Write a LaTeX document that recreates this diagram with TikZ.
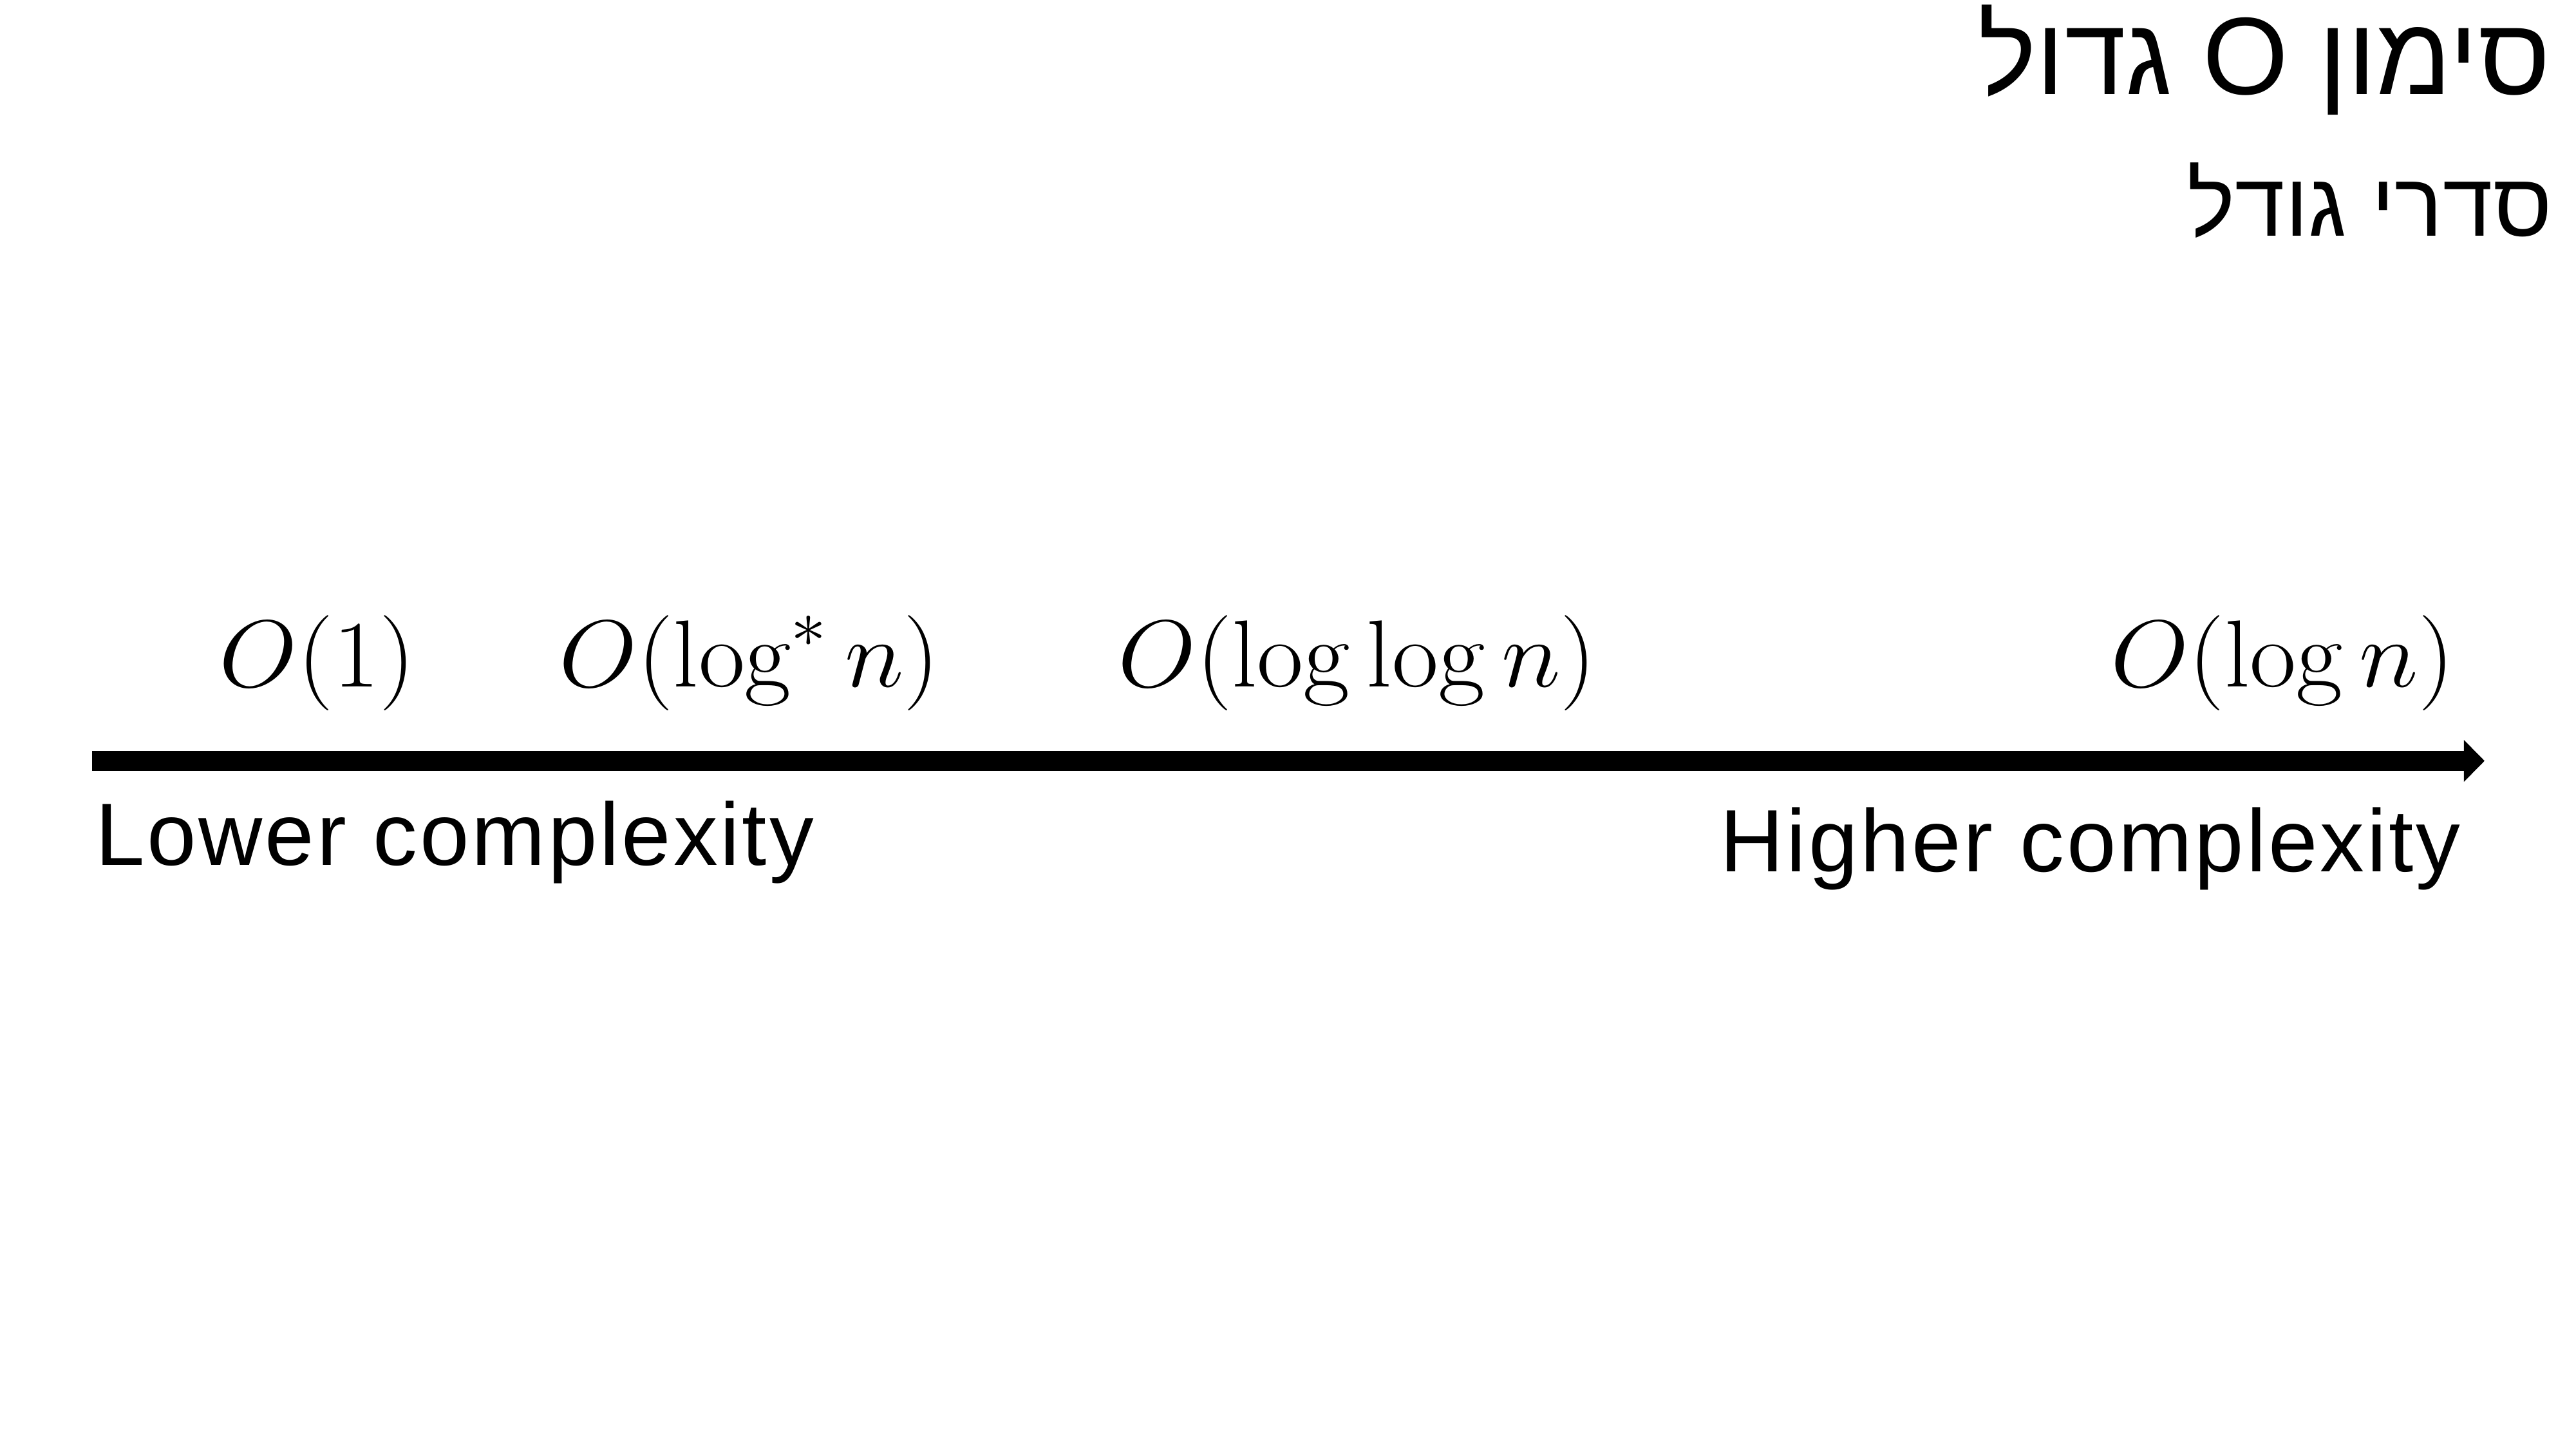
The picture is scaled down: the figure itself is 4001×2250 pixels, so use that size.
\documentclass[tikz,border=0pt]{standalone}
\usepackage{fix-cm}
\usepackage{graphicx}
\usepackage{fontspec}
\newfontfamily\labfont[LetterSpace=2.8]{Liberation Sans}
\newfontfamily\hebfont[Script=Hebrew]{Liberation Sans}
\TeXXeTstate=1
\usetikzlibrary{arrows.meta}
\newcommand{\cplx}[1]{\scalebox{1.06}[1]{$#1$}}
\tikzset{
  lbl/.style={inner sep=0pt, outer sep=0pt, text=black},
  mathlbl/.style={lbl, anchor=base, font=\fontsize{35.5}{42}\selectfont},
  sidelbl/.style={lbl, font=\labfont\fontsize{33}{40}\selectfont},
  axis/.style={line width=7.44pt, draw=black, -{Triangle[length=7.7pt,width=15.1pt]}}
}
\begin{document}
\begin{tikzpicture}[x=0.24pt, y=-0.24pt]
\useasboundingbox (0,0) rectangle (4001,2250);
\fill[white] (0,0) rectangle (4001,2250);
% title
\node[lbl, anchor=base east, font=\fontsize{41}{48}\selectfont] (title) at (3961,147) {\hebfont\beginR סימון O גדול\endR};
\node[lbl, anchor=base east, font=\fontsize{33.6}{40}\selectfont] (subtitle) at (3964,367) {\hebfont\beginR סדרי גודל\endR};
% axis
\coordinate (start) at (143,1181.5);
\coordinate (end) at (3859,1181.5);
\draw[axis] (start) -- (end);
% complexity labels
\node[mathlbl] (o1) at (493,1067) {\cplx{O(1)}};
\node[mathlbl] (ologstar) at (1164,1067) {\cplx{O(\log^{*} n)}};
\node[mathlbl] (ologlog) at (2108,1067) {\cplx{O(\log\log n)}};
\node[mathlbl] (olog) at (3545,1067) {\cplx{O(\log n)}};
% ends
\node[sidelbl, anchor=base west] (lower) at (148,1343) {Lower complexity};
\node[sidelbl, anchor=base east] (higher) at (3822,1353) {Higher complexity};
\end{tikzpicture}
\end{document}
